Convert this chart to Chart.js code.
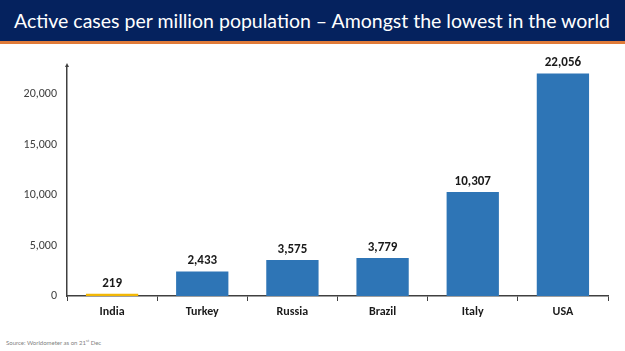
<!DOCTYPE html>
<html>
<head>
<meta charset="utf-8">
<script src="https://cdn.jsdelivr.net/npm/chart.js@4"></script>
<style>
  html, body { margin: 0; padding: 0; background: #fff; }
  #wrap { position: relative; width: 625px; height: 351px; overflow: hidden; }
  #header {
    position: absolute; left: 0; top: 0; width: 625px; height: 41px;
    background: #05225e; border-bottom: 3px solid #e07b39;
  }
  #title {
    position: absolute; left: 14px; top: 0; line-height: 41px;
    color: #fff; font-family: 'Lato', 'Open Sans', sans-serif; font-size: 21px; white-space: nowrap;
  }
  #source {
    position: absolute; left: 6px; top: 338px; font-family: 'Lato', sans-serif;
    font-size: 6px; color: #7f7f7f;
  }
  #chartBox { position: absolute; left: 0; top: 45px; width: 625px; height: 290px; }
</style>
</head>
<body>
<div id="wrap">
  <div id="header"><span id="title">Active cases per million population – Amongst the lowest in the world</span></div>
  <div id="chartBox"><canvas id="c" width="625" height="290"></canvas></div>
  <div id="source">Source: Worldometer as on 21<sup style="font-size:4px">st</sup> Dec</div>
</div>
<script>
// ==========================================
// Data
// ==========================================
const COUNTRIES = ['India', 'Turkey', 'Russia', 'Brazil', 'Italy', 'USA'];
const ACTIVE_PER_MILLION = [219, 2433, 3575, 3779, 10307, 22056];
const BAR_COLORS = ['#f2b705', '#2e75b6', '#2e75b6', '#2e75b6', '#2e75b6', '#2e75b6'];
const Y_TICKS = [0, 5000, 10000, 15000, 20000];

// shrink the title until it fits the band like the slide does
const title = document.getElementById('title');
let fs = 21;
while (title.offsetWidth > 596 && fs > 10) {
    fs -= 0.25;
    title.style.fontSize = fs + 'px';
}

// value labels above each bar
const valueLabels = {
    id: 'valueLabels',
    afterDatasetsDraw(chart) {
        const ctx = chart.ctx;
        const meta = chart.getDatasetMeta(0);
        ctx.save();
        ctx.font = 'bold 13px Carlito, "Liberation Sans", sans-serif';
        ctx.fillStyle = '#1a1a1a';
        ctx.textAlign = 'center';
        ctx.textBaseline = 'bottom';
        meta.data.forEach((bar, i) => {
            ctx.fillText(ACTIVE_PER_MILLION[i].toLocaleString('en-US'), bar.x, bar.y - 4);
        });
        ctx.restore();
    }
};

// little arrow head at the top of the y axis
const axisArrow = {
    id: 'axisArrow',
    afterDraw(chart) {
        const ctx = chart.ctx;
        const x = chart.chartArea.left;
        const y = chart.chartArea.top;
        ctx.save();
        ctx.fillStyle = '#404040';
        ctx.beginPath();
        ctx.moveTo(x, y - 3);
        ctx.lineTo(x - 2, y + 1);
        ctx.lineTo(x + 2, y + 1);
        ctx.closePath();
        ctx.fill();
        ctx.restore();
    }
};

new Chart(document.getElementById('c'), {
    type: 'bar',
    data: {
        labels: COUNTRIES,
        datasets: [{
            data: ACTIVE_PER_MILLION,
            backgroundColor: BAR_COLORS,
            barPercentage: 0.58,
            categoryPercentage: 1.0
        }]
    },
    options: {
        responsive: false,
        maintainAspectRatio: false,
        animation: false,
        layout: { padding: { top: 21, right: 17, bottom: 0, left: 0 } },
        plugins: {
            legend: { display: false },
            tooltip: { enabled: false }
        },
        scales: {
            x: {
                afterFit(scale) { scale.height = 39; },
                grid: {
                    display: true,
                    drawOnChartArea: false,
                    drawTicks: true,
                    tickLength: 5,
                    color: '#404040',
                    offset: true
                },
                border: { color: '#404040', width: 1.5 },
                ticks: {
                    color: '#1a1a1a',
                    maxRotation: 0,
                    font: { family: 'Carlito, "Liberation Sans", sans-serif', size: 12, weight: 'bold' },
                    padding: 4
                }
            },
            y: {
                min: 0,
                max: 22800,
                afterFit(scale) { scale.width = 67; },
                afterBuildTicks(scale) { scale.ticks = Y_TICKS.map(v => ({ value: v })); },
                grid: { display: false, drawTicks: false },
                border: { color: '#404040', width: 1.5 },
                ticks: {
                    color: '#404040',
                    padding: 10,
                    font: { family: 'Carlito, "Liberation Sans", sans-serif', size: 12 },
                    callback: v => v.toLocaleString('en-US')
                }
            }
        }
    },
    plugins: [valueLabels, axisArrow]
});
</script>
</body>
</html>
